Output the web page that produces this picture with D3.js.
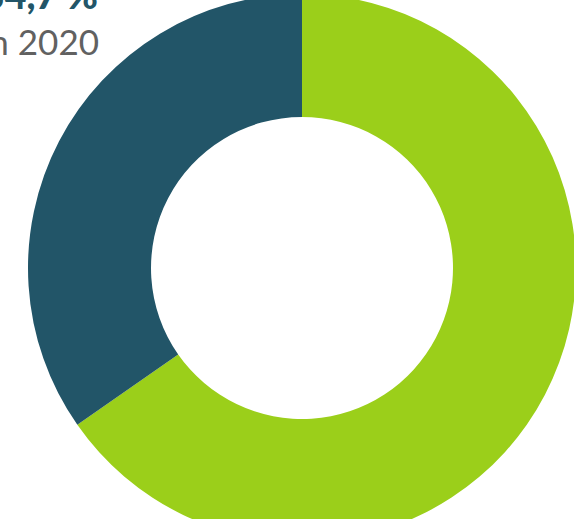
<!DOCTYPE html>
<html>
<head>
<meta charset="utf-8">
<script src="https://cdn.jsdelivr.net/npm/d3@7"></script>
<style>
  html, body { margin: 0; padding: 0; background: #fff; overflow: hidden; }
</style>
</head>
<body>
<script>
var labels = ["Autres", "34,7 %"];
var values = [65.3, 34.7];
var colors = ["#9bcf1a", "#225568"];
var caption = ["34,7 %", "en 2020"];

var svg = d3.select("body").append("svg").attr("width", 574).attr("height", 519);

var cx = 302, cy = 268, rOuter = 274, rInner = 151;

var pie = d3.pie().sort(null).value(function(d){ return d; });
var arc = d3.arc().innerRadius(rInner).outerRadius(rOuter);

svg.append("g")
    .attr("transform", "translate(" + cx + "," + cy + ")")
  .selectAll("path")
    .data(pie(values))
    .enter().append("path")
      .attr("d", arc)
      .attr("fill", function(d,i){ return colors[i]; });

svg.append("text")
    .attr("x", 98).attr("y", 9)
    .attr("text-anchor", "end")
    .attr("font-family", "Lato, 'Open Sans', sans-serif")
    .attr("font-weight", "900")
    .attr("font-size", 38)
    .attr("fill", "#225568")
    .text(caption[0]);

svg.append("text")
    .attr("x", 99).attr("y", 55)
    .attr("text-anchor", "end")
    .attr("font-family", "Lato, 'Open Sans', sans-serif")
    .attr("font-size", 35)
    .attr("fill", "#616161")
    .text(caption[1]);
</script>
</body>
</html>
